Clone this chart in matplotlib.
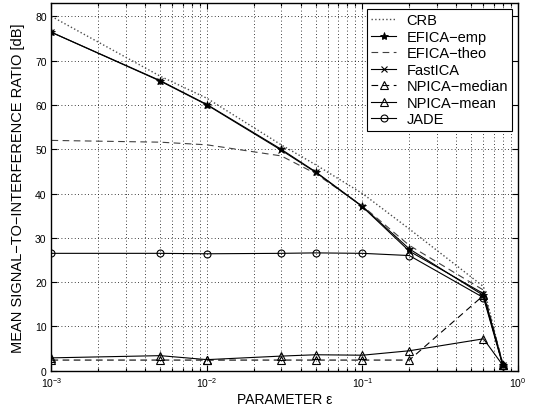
import numpy as np
import matplotlib
matplotlib.use("Agg")
import matplotlib.pyplot as plt
from matplotlib.ticker import LogLocator, NullFormatter, MultipleLocator

plt.rcParams["font.family"] = ["Liberation Sans", "DejaVu Sans"]

eps = [1e-3, 5e-3, 1e-2, 3e-2, 5e-2, 1e-1, 2e-1, 6e-1, 8e-1]

crb          = [80.0, 66.5, 61.5, 51.0, 46.5, 40.0, 32.0, 19.0, 1.2]
efica_emp    = [76.4, 65.5, 60.1, 50.0, 44.9, 37.1, 27.5, 17.0, 1.3]
efica_theo   = [52.0, 51.6, 51.0, 48.5, 44.5, 37.2, 28.3, 18.2, 1.5]
fastica      = [76.4, 65.4, 60.0, 49.8, 44.8, 37.0, 27.0, 17.4, 1.3]
npica_median = [2.4, 2.4, 2.4, 2.4, 2.4, 2.4, 2.4, 17.0, 1.2]
npica_mean   = [2.9, 3.4, 2.5, 3.3, 3.6, 3.5, 4.5, 7.2, 1.2]
jade         = [26.5, 26.5, 26.4, 26.5, 26.6, 26.5, 26.0, 16.5, 1.1]

fig = plt.figure(figsize=(5.37, 4.10), dpi=100)
ax = fig.add_axes([0.0959, 0.0934, 0.8687, 0.8966])

lw = 0.8
ax.plot(eps, crb, ":", color="0.3", lw=1.0, label="CRB")
ax.plot(eps, efica_emp, "-", color="k", lw=lw, marker="*", ms=6,
        mfc="k", mec="k", mew=0.6, label="EFICA−emp")
ax.plot(eps, efica_theo, "--", color="0.25", lw=lw, dashes=(6, 4),
        label="EFICA−theo")
ax.plot(eps, fastica, "-", color="k", lw=lw, marker="x", ms=4,
        mew=0.8, label="FastICA")
ax.plot(eps, npica_median, "--", color="k", lw=lw, dashes=(6, 4),
        marker="^", ms=6, mfc="none", mec="k", mew=0.8, label="NPICA−median")
ax.plot(eps, npica_mean, "-", color="k", lw=lw, marker="^", ms=6,
        mfc="none", mec="k", mew=0.8, label="NPICA−mean")
ax.plot(eps, jade, "-", color="k", lw=lw, marker="o", ms=5,
        mfc="none", mec="k", mew=0.8, label="JADE")

ax.set_xscale("log")
ax.set_xlim(1e-3, 1e0)
ax.set_ylim(0, 83)
ax.yaxis.set_major_locator(MultipleLocator(10))
ax.xaxis.set_minor_locator(LogLocator(base=10, subs=np.arange(2, 10)))
ax.xaxis.set_minor_formatter(NullFormatter())

grid_style = dict(ls=(0, (1, 3)), color="k", lw=0.6)
ax.grid(True, which="major", axis="both", **grid_style)
ax.grid(True, which="minor", axis="x", **grid_style)

ax.tick_params(which="both", direction="in", top=True, right=True,
               labelsize=7.5, width=0.8)
ax.tick_params(which="major", length=4)
ax.tick_params(which="minor", length=2)
for s in ax.spines.values():
    s.set_linewidth(1.0)

ax.set_xlabel("PARAMETER ε", fontsize=10, labelpad=2)
ax.set_ylabel("MEAN SIGNAL−TO−INTERFERENCE RATIO [dB]", fontsize=10.5,
              labelpad=7)

leg = ax.legend(loc="upper right", fontsize=10.5, frameon=True, fancybox=False,
                edgecolor="k", framealpha=1, handlelength=1.7,
                borderaxespad=0.4, labelspacing=0.17, handletextpad=0.7,
                borderpad=0.3)
leg.get_frame().set_linewidth(0.8)

fig.savefig("out.png", dpi=100)
